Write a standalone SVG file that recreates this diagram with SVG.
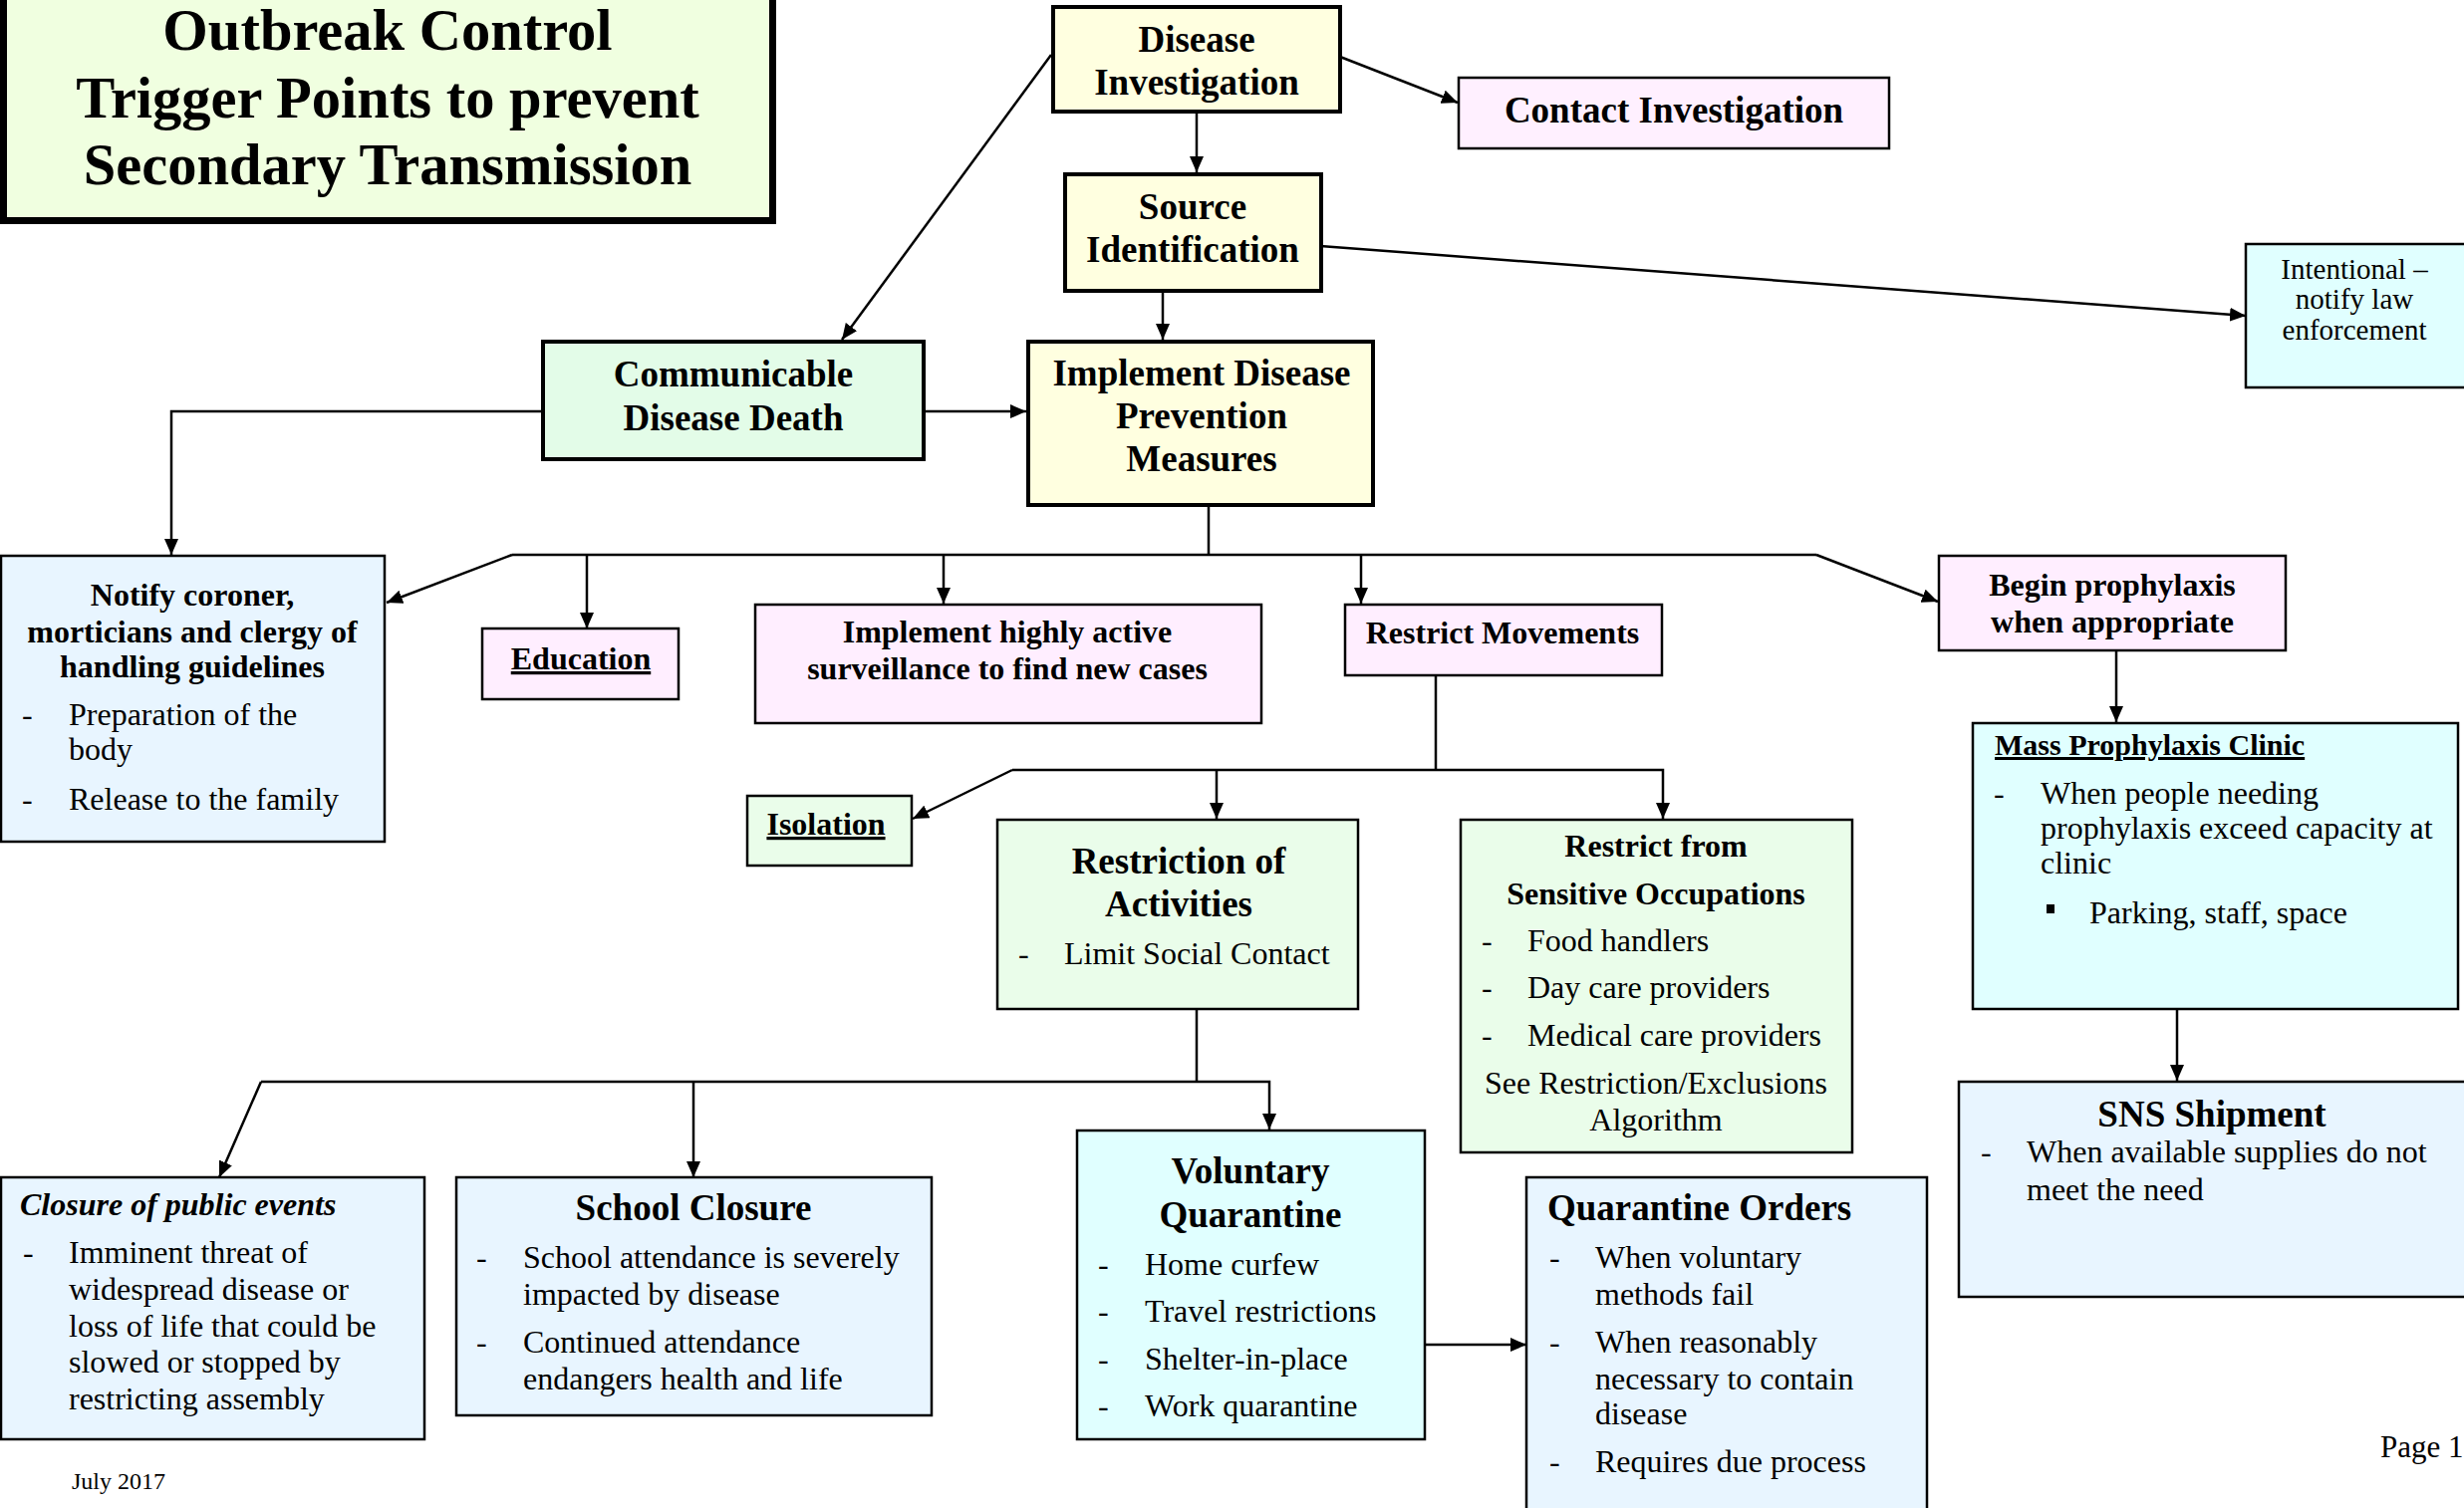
<svg xmlns="http://www.w3.org/2000/svg" width="2473" height="1514" viewBox="0 0 2473 1514">
<style>
text{font-family:"Liberation Serif","Times New Roman",serif;fill:#000}
.b{font-weight:bold}
.c{text-anchor:middle}
.f37{font-size:37px}
.f32{font-size:32px}
.thick{stroke:#000;stroke-width:4}
.thin{stroke:#000;stroke-width:2.5}
.yel{fill:#FFFFE0}
.pink{fill:#FFEEFF}
.blue{fill:#E8F5FF}
.cyan{fill:#E0FFFF}
.green{fill:#EAFDEA}
.u{text-decoration:underline}
.con{fill:none;stroke:#000;stroke-width:2.5}
</style>
<defs>
<marker id="ah" viewBox="0 0 16 14" refX="16" refY="7" markerWidth="16" markerHeight="14" orient="auto" markerUnits="userSpaceOnUse"><path d="M0,0 L16,7 L0,14 z" fill="#000"/></marker>
</defs>
<rect width="2473" height="1514" fill="#fff"/>

<g id="connectors">
<path class="con" d="M1345,57 L1463,103" marker-end="url(#ah)"/>
<path class="con" d="M1055,55 L845,341" marker-end="url(#ah)"/>
<path class="con" d="M1201,100 L1201,173" marker-end="url(#ah)"/>
<path class="con" d="M1325,247 L2254,317" marker-end="url(#ah)"/>
<path class="con" d="M1167,294 L1167,341" marker-end="url(#ah)"/>
<path class="con" d="M929,413 L1030,413" marker-end="url(#ah)"/>
<path class="con" d="M543,413 L172,413 L172,557" marker-end="url(#ah)"/>
<path class="con" d="M1213,509 L1213,557"/>
<path class="con" d="M514,557 L1823,557"/>
<path class="con" d="M514,557 L388,605" marker-end="url(#ah)"/>
<path class="con" d="M589,557 L589,631" marker-end="url(#ah)"/>
<path class="con" d="M947,557 L947,606" marker-end="url(#ah)"/>
<path class="con" d="M1366,557 L1366,606" marker-end="url(#ah)"/>
<path class="con" d="M1823,557 L1945,604" marker-end="url(#ah)"/>
<path class="con" d="M1441,678 L1441,773"/>
<path class="con" d="M1016,773 L1669,773 L1669,822" marker-end="url(#ah)"/>
<path class="con" d="M1221,773 L1221,822" marker-end="url(#ah)"/>
<path class="con" d="M1016,773 L916,822" marker-end="url(#ah)"/>
<path class="con" d="M2124,653 L2124,725" marker-end="url(#ah)"/>
<path class="con" d="M2185,1014 L2185,1085" marker-end="url(#ah)"/>
<path class="con" d="M1201,1014 L1201,1086"/>
<path class="con" d="M262,1086 L1274,1086 L1274,1134" marker-end="url(#ah)"/>
<path class="con" d="M696,1086 L696,1182" marker-end="url(#ah)"/>
<path class="con" d="M262,1086 L220,1182" marker-end="url(#ah)"/>
<path class="con" d="M1431,1350 L1532,1350" marker-end="url(#ah)"/>
</g>

<g id="title">
<rect x="3.5" y="-10" width="772" height="231.5" fill="#F0FFE0" stroke="#000" stroke-width="7"/>
<text class="b c" x="389" y="50" font-size="58.5">Outbreak Control</text>
<text class="b c" x="389" y="118" font-size="58.5">Trigger Points to prevent</text>
<text class="b c" x="389" y="185" font-size="58.5">Secondary Transmission</text>
</g>

<g id="disease-investigation">
<rect class="yel thick" x="1057" y="7" width="288" height="105"/>
<text class="b c f37" x="1201" y="52">Disease</text>
<text class="b c f37" x="1201" y="95">Investigation</text>
</g>

<g id="contact-investigation">
<rect class="thin" x="1464" y="78" width="432" height="71" fill="#FFF0FF"/>
<text class="b c f37" x="1680" y="123">Contact Investigation</text>
</g>

<g id="source-identification">
<rect class="yel thick" x="1069" y="175" width="257" height="117"/>
<text class="b c f37" x="1197" y="220">Source</text>
<text class="b c f37" x="1197" y="263">Identification</text>
</g>

<g id="intentional">
<rect class="cyan thin" x="2254" y="245" width="240" height="144"/>
<text class="c" x="2363" y="280" font-size="29">Intentional –</text>
<text class="c" x="2363" y="310" font-size="29">notify law</text>
<text class="c" x="2363" y="341" font-size="29">enforcement</text>
</g>

<g id="communicable-disease-death">
<rect class="thick" fill="#E3FCE8" x="545" y="343" width="382" height="118"/>
<text class="b c f37" x="736" y="388">Communicable</text>
<text class="b c f37" x="736" y="432">Disease Death</text>
</g>

<g id="implement-measures">
<rect class="yel thick" x="1032" y="343" width="346" height="164"/>
<text class="b c f37" x="1206" y="387">Implement Disease</text>
<text class="b c f37" x="1206" y="430">Prevention</text>
<text class="b c f37" x="1206" y="473">Measures</text>
</g>

<g id="notify-coroner">
<rect class="blue thin" x="1" y="558" width="385" height="287"/>
<text class="b c f32" x="193" y="608">Notify coroner,</text>
<text class="b c f32" x="193" y="645">morticians and clergy of</text>
<text class="b c f32" x="193" y="680">handling guidelines</text>
<text class="f32" x="22" y="728">-</text>
<text class="f32" x="69" y="728">Preparation of the</text>
<text class="f32" x="69" y="763">body</text>
<text class="f32" x="22" y="813">-</text>
<text class="f32" x="69" y="813">Release to the family</text>
</g>

<g id="education">
<rect class="pink thin" x="484" y="631" width="197" height="71"/>
<text class="b c f32 u" x="583" y="672">Education</text>
</g>

<g id="surveillance">
<rect class="pink thin" x="758" y="607" width="508" height="119"/>
<text class="b c f32" x="1011" y="645">Implement highly active</text>
<text class="b c f32" x="1011" y="682">surveillance to find new cases</text>
</g>

<g id="restrict-movements">
<rect class="pink thin" x="1350" y="607" width="318" height="71"/>
<text class="b c f32" x="1508" y="646">Restrict Movements</text>
</g>

<g id="begin-prophylaxis">
<rect class="pink thin" x="1946" y="558" width="348" height="95"/>
<text class="b c f32" x="2120" y="598">Begin prophylaxis</text>
<text class="b c f32" x="2120" y="635">when appropriate</text>
</g>

<g id="isolation">
<rect class="green thin" x="750" y="799" width="165" height="70"/>
<text class="b c f32 u" x="829" y="838">Isolation</text>
</g>

<g id="restriction-of-activities">
<rect class="green thin" x="1001" y="823" width="362" height="190"/>
<text class="b c f37" x="1183" y="877">Restriction of</text>
<text class="b c f37" x="1183" y="920">Activities</text>
<text class="f32" x="1022" y="968">-</text>
<text class="f32" x="1068" y="968">Limit Social Contact</text>
</g>

<g id="restrict-sensitive-occupations">
<rect class="green thin" x="1466" y="823" width="393" height="334"/>
<text class="b c f32" x="1662" y="860">Restrict from</text>
<text class="b c f32" x="1662" y="908">Sensitive Occupations</text>
<text class="f32" x="1487" y="955">-</text>
<text class="f32" x="1533" y="955">Food handlers</text>
<text class="f32" x="1487" y="1002">-</text>
<text class="f32" x="1533" y="1002">Day care providers</text>
<text class="f32" x="1487" y="1050">-</text>
<text class="f32" x="1533" y="1050">Medical care providers</text>
<text class="c f32" x="1662" y="1098">See Restriction/Exclusions</text>
<text class="c f32" x="1662" y="1135">Algorithm</text>
</g>

<g id="mass-prophylaxis-clinic">
<rect class="cyan thin" x="1980" y="726" width="487" height="287"/>
<text class="b u" x="2002" y="758" font-size="30">Mass Prophylaxis Clinic</text>
<text class="f32" x="2001" y="807">-</text>
<text class="f32" x="2048" y="807">When people needing</text>
<text class="f32" x="2048" y="842">prophylaxis exceed capacity at</text>
<text class="f32" x="2048" y="877">clinic</text>
<rect x="2054" y="908" width="8" height="9" fill="#000"/>
<text class="f32" x="2097" y="927">Parking, staff, space</text>
</g>

<g id="sns-shipment">
<rect class="blue thin" x="1966" y="1086" width="520" height="216"/>
<text class="b c f37" x="2220" y="1131">SNS Shipment</text>
<text class="f32" x="1988" y="1167">-</text>
<text class="f32" x="2034" y="1167">When available supplies do not</text>
<text class="f32" x="2034" y="1205">meet the need</text>
</g>

<g id="closure-public-events">
<rect class="blue thin" x="1" y="1182" width="425" height="263"/>
<text class="b f32" font-style="italic" x="20" y="1220">Closure of public events</text>
<text class="f32" x="23" y="1268">-</text>
<text class="f32" x="69" y="1268">Imminent threat of</text>
<text class="f32" x="69" y="1305">widespread disease or</text>
<text class="f32" x="69" y="1342">loss of life that could be</text>
<text class="f32" x="69" y="1378">slowed or stopped by</text>
<text class="f32" x="69" y="1415">restricting assembly</text>
</g>

<g id="school-closure">
<rect class="blue thin" x="458" y="1182" width="477" height="239"/>
<text class="b c f37" x="696" y="1225">School Closure</text>
<text class="f32" x="478" y="1273">-</text>
<text class="f32" x="525" y="1273">School attendance is severely</text>
<text class="f32" x="525" y="1310">impacted by disease</text>
<text class="f32" x="478" y="1358">-</text>
<text class="f32" x="525" y="1358">Continued attendance</text>
<text class="f32" x="525" y="1395">endangers health and life</text>
</g>

<g id="voluntary-quarantine">
<rect class="cyan thin" x="1081" y="1135" width="349" height="310"/>
<text class="b c f37" x="1255" y="1188">Voluntary</text>
<text class="b c f37" x="1255" y="1232">Quarantine</text>
<text class="f32" x="1102" y="1280">-</text>
<text class="f32" x="1149" y="1280">Home curfew</text>
<text class="f32" x="1102" y="1327">-</text>
<text class="f32" x="1149" y="1327">Travel restrictions</text>
<text class="f32" x="1102" y="1375">-</text>
<text class="f32" x="1149" y="1375">Shelter-in-place</text>
<text class="f32" x="1102" y="1422">-</text>
<text class="f32" x="1149" y="1422">Work quarantine</text>
</g>

<g id="quarantine-orders">
<rect class="blue thin" x="1532" y="1182" width="402" height="345"/>
<text class="b f37" x="1553" y="1225">Quarantine Orders</text>
<text class="f32" x="1555" y="1273">-</text>
<text class="f32" x="1601" y="1273">When voluntary</text>
<text class="f32" x="1601" y="1310">methods fail</text>
<text class="f32" x="1555" y="1358">-</text>
<text class="f32" x="1601" y="1358">When reasonably</text>
<text class="f32" x="1601" y="1395">necessary to contain</text>
<text class="f32" x="1601" y="1430">disease</text>
<text class="f32" x="1555" y="1478">-</text>
<text class="f32" x="1601" y="1478">Requires due process</text>
</g>

<g id="footer">
<text x="72" y="1495" font-size="24">July 2017</text>
<text x="2389" y="1463" font-size="31">Page 1</text>
</g>
</svg>
